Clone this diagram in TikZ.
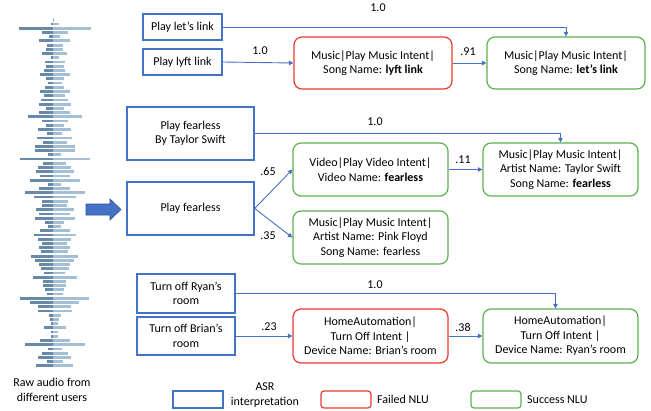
\documentclass[tikz,border=0pt]{standalone}
\usepackage{fontspec}
\setmainfont{Carlito}
\usetikzlibrary{arrows.meta}
\definecolor{asrblue}{RGB}{68,114,196}
\definecolor{asrdark}{RGB}{47,82,143}
\definecolor{failred}{RGB}{233,59,44}
\definecolor{okgreen}{RGB}{92,176,80}
\definecolor{wavel}{RGB}{105,137,168}
\definecolor{waver}{RGB}{164,190,214}
\begin{document}
\begin{tikzpicture}[x=1pt,y=-1pt,
  font=\fontsize{12}{14.5}\selectfont,
  asr/.style={draw=asrblue, line width=1.3pt, align=center, inner sep=0pt},
  nlufail/.style={draw=failred, line width=1.2pt, rounded corners=8pt, align=center, inner sep=0pt},
  nluok/.style={draw=okgreen, line width=1.2pt, rounded corners=8pt, align=center, inner sep=0pt},
  conn/.style={draw=asrblue, line width=0.9pt, -{Triangle[width=4.5pt,length=4.5pt]}},
  lab/.style={inner sep=0pt}]
\useasboundingbox (0,0) rectangle (651,410);

% waveform
\draw[waver, line width=0.8pt] (53,18) -- (53,22);
\foreach \l/\r [count=\i from 0] in {2/6,34/38,11/15,4/7,14/17,6/10,7/10,11/14,2/6,8/12,7/11,9/12,13/17,7/11,5/9,8/11,13/17,9/12,12/15,14/18,7/11,14/17,25/29,11/15,7/11,15/18,6/9,16/19,10/14,18/22,18/22,5/8,33/37,10/13,15/18,17/21,13/17,23/27,5/8,14/17,28/32,19/23,11/15,11/14,17/21,14/17,18/22,8/11,5/8,13/17,19/23,15/18,11/14,14/17,12/15,22/25,18/21,14/17,12/16,9/12,20/24,10/13,10/13,8/11,6/10,33/36,23/26,15/18,15/19,4/8,3/6,2/5,9/13,2/5,2/5,13/17,28/32,5/9,11/15,15/18,6/10,17/20}{
  \fill[wavel] ({53-\l},{24+4.22*\i-1.4}) rectangle (53,{24+4.22*\i+1.4});
  \fill[waver] (53,{24+4.22*\i-1.4}) rectangle ({53+\r},{24+4.22*\i+1.4});
}
\node[lab, align=center] (raw) at (52,390) {Raw audio from\\different users};

% big arrow
\filldraw[fill=asrblue, draw=asrdark, line width=0.6pt]
  (86,204) -- (110,204) -- (110,199) -- (121,209.5) -- (110,220) -- (110,215) -- (86,215) -- cycle;

% ASR boxes
\node[asr, minimum width=79pt, minimum height=26pt] (a1) at (182.5,27) {Play let’s link};
\node[asr, minimum width=79pt, minimum height=26pt] (a2) at (182.5,62) {Play lyft link};
\node[asr, minimum width=127pt, minimum height=53pt] (a3) at (190.5,133.5) {Play fearless\\By Taylor Swift};
\node[asr, minimum width=127pt, minimum height=53pt] (a4) at (190.5,208.5) {Play fearless};
\node[asr, minimum width=98pt, minimum height=39pt] (a5) at (186,293.5) {Turn off Ryan’s\\room};
\node[asr, minimum width=98pt, minimum height=38pt] (a6) at (186,336) {Turn off Brian’s\\room};

% NLU boxes
\node[nlufail, minimum width=158pt, minimum height=52pt] (r1) at (373,63) {Music|Play Music Intent|\\Song Name: \textbf{lyft link}};
\node[nluok, minimum width=158pt, minimum height=52pt] (g1) at (566,63) {Music|Play Music Intent|\\Song Name: \textbf{let’s link}};
\node[nluok, minimum width=155pt, minimum height=53pt] (g2) at (370.5,169.5) {Video|Play Video Intent|\\Video Name: \textbf{fearless}};
\node[nluok, minimum width=155pt, minimum height=53pt] (g3) at (560.5,169.5) {Music|Play Music Intent|\\Artist Name: Taylor Swift\\Song Name: \textbf{fearless}};
\node[nluok, minimum width=155pt, minimum height=53pt] (g4) at (370.5,237.5) {Music|Play Music Intent|\\Artist Name: Pink Floyd\\Song Name: fearless};
\node[nlufail, minimum width=155pt, minimum height=54pt] (r2) at (370.5,336) {HomeAutomation|\\Turn Off Intent |\\Device Name: Brian’s room};
\node[nluok, minimum width=155pt, minimum height=54pt] (g5) at (560.5,336) {HomeAutomation|\\Turn Off Intent |\\Device Name: Ryan’s room};

% connectors
\draw[conn] (a1.east) -| (g1.north);
\draw[conn] (a2.east) -- (r1.west);
\draw[conn] (r1.east) -- (g1.west);
\draw[conn] (a3.east) -| (g3.north);
\draw[conn] (a4.east) -- (g2.west);
\draw[conn] (a4.east) -- (g4.west);
\draw[conn] (g2.east) -- (g3.west);
\coordinate (t5) at ([xshift=-5pt]g5.north);
\draw[conn] (a5.east) -| (t5);
\draw[conn] (a6.east) -- (r2.west);
\draw[conn] (r2.east) -- (g5.west);

% weights
\node[lab] (w1) at (378,8) {1.0};
\node[lab] (w2) at (260,51) {1.0};
\node[lab] (w3) at (468,52) {.91};
\node[lab] (w4) at (375,122) {1.0};
\node[lab] (w5) at (268,171) {.65};
\node[lab] (w6) at (268,236) {.35};
\node[lab] (w7) at (463,160) {.11};
\node[lab] (w8) at (375,285) {1.0};
\node[lab] (w9) at (269,327) {.23};
\node[lab] (w10) at (463,327) {.38};

% legend
\node[draw=asrblue, line width=1.2pt, minimum width=50pt, minimum height=17pt, inner sep=0pt] (k1) at (198,399.5) {};
\node[lab, align=center] (k1t) at (265,395) {ASR\\interpretation};
\node[draw=failred, line width=1.2pt, rounded corners=3pt, minimum width=50pt, minimum height=17pt, inner sep=0pt] (k2) at (346,399.5) {};
\node[lab, anchor=west] (k2t) at (377,399.5) {Failed NLU};
\node[draw=okgreen, line width=1.2pt, rounded corners=3pt, minimum width=50pt, minimum height=17pt, inner sep=0pt] (k3) at (496,399.5) {};
\node[lab, anchor=west] (k3t) at (527,399.5) {Success NLU};
\end{tikzpicture}
\end{document}
